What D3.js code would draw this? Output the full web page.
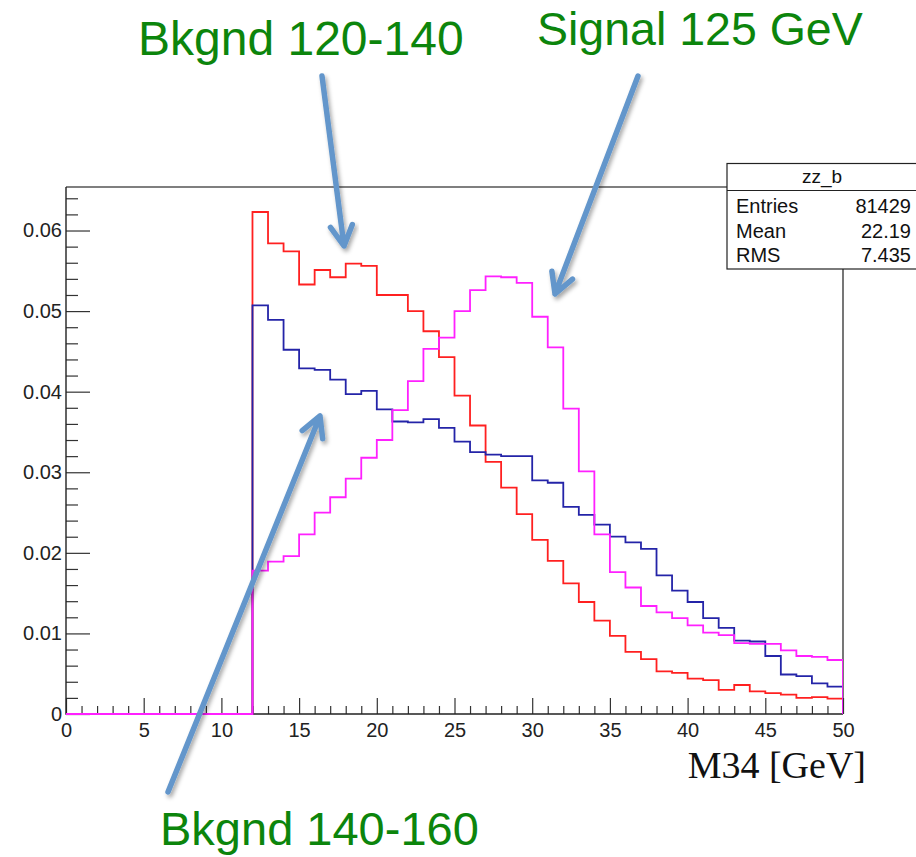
<!DOCTYPE html>
<html><head><meta charset="utf-8">
<script src="https://cdn.jsdelivr.net/npm/d3@7"></script>
<style>body{margin:0;background:#fff}svg{display:block}</style>
</head><body>
<svg id="c" width="916" height="857"></svg>
<script>
// ---- data ----
const binLowEdges = [0,1,2,3,4,5,6,7,8,9,10,11,12,13,14,15,16,17,18,19,20,21,22,23,24,25,26,27,28,29,30,31,32,33,34,35,36,37,38,39,40,41,42,43,44,45,46,47,48,49];
const bkgnd120_140 = [0,0,0,0,0,0,0,0,0,0,0,0,
  0.0623,0.0584,0.0574,0.0533,0.0551,0.0542,0.0559,0.0556,0.0520,0.0520,
  0.0500,0.0475,0.0443,0.0395,0.0358,0.0313,0.0281,0.0248,0.0216,0.0190,
  0.0162,0.0139,0.0116,0.0097,0.0077,0.0068,0.0053,0.0051,0.0044,0.0042,
  0.0030,0.0036,0.0028,0.0026,0.0024,0.0020,0.0021,0.0019];
const bkgnd140_160 = [0,0,0,0,0,0,0,0,0,0,0,0,
  0.0507,0.0489,0.0452,0.0429,0.0427,0.0415,0.0397,0.0401,0.0378,0.0363,
  0.0362,0.0366,0.0355,0.0338,0.0325,0.0322,0.0320,0.0320,0.0290,0.0287,
  0.0257,0.0247,0.0235,0.0220,0.0213,0.0205,0.0172,0.0153,0.0139,0.0119,
  0.0107,0.0091,0.0090,0.0072,0.0049,0.0047,0.0038,0.0034];
const signal125 = [0,0,0,0,0,0,0,0,0,0,0,0,
  0.0178,0.0189,0.0196,0.0223,0.0250,0.0269,0.0292,0.0318,0.0340,0.0377,
  0.0413,0.0453,0.0467,0.0500,0.0526,0.0543,0.0542,0.0535,0.0493,0.0455,
  0.0379,0.0301,0.0223,0.0176,0.0157,0.0134,0.0126,0.0119,0.0110,0.0101,
  0.0098,0.0088,0.0087,0.0087,0.0079,0.0072,0.0071,0.0067];
const xMajorTicks = [0,5,10,15,20,25,30,35,40,45,50];
const xMinorTicks = [1,2,3,4,6,7,8,9,11,12,13,14,16,17,18,19,21,22,23,24,26,27,28,29,31,32,33,34,36,37,38,39,41,42,43,44,46,47,48,49];
const yMajorTicks = [0,0.01,0.02,0.03,0.04,0.05,0.06];
const yMinorTicks = [0.002,0.004,0.006,0.008,0.012,0.014,0.016,0.018,0.022,0.024,0.026,0.028,0.032,0.034,0.036,0.038,0.042,0.044,0.046,0.048,0.052,0.054,0.056,0.058,0.062,0.064];
const xDomain = [0,50];
const yDomain = [0,0.0654];
const xTitle = "M34 [GeV]";
const statsTitle = "zz_b";
const statsLabels = ["Entries","Mean","RMS"];
const statsValues = ["81429","22.19","7.435"];
const annoLabels = ["Bkgnd 120-140","Signal 125 GeV","Bkgnd 140-160"];

// ---- drawing ----
const svg = d3.select("#c");
const L=66,R=843,T=187,B=714;
const x = d3.scaleLinear().domain(xDomain).range([L,R]);
const y = d3.scaleLinear().domain(yDomain).range([B,T]);
const sans = "'Liberation Sans', Arial, Helvetica, sans-serif";

svg.append("rect").attr("width",916).attr("height",857).attr("fill","#fff");

const defs = svg.append("defs");
defs.append("clipPath").attr("id","clip").append("rect")
  .attr("x",L).attr("y",T-1).attr("width",R-L).attr("height",B-T+2);
const f = defs.append("filter").attr("id","shadow").attr("x","-20%").attr("y","-20%").attr("width","140%").attr("height","140%");
f.append("feDropShadow").attr("dx",2).attr("dy",3).attr("stdDeviation",2).attr("flood-color","#000").attr("flood-opacity",0.35);

// frame (top/right)
svg.append("path").attr("d",`M${L},${T}H${R}V${B}`).attr("fill","none").attr("stroke","#555").attr("stroke-width",1.6);

// axes
function styleAxis(g){
  g.select(".domain").remove();
  g.selectAll("line").attr("stroke","#333").attr("stroke-width",1.2);
  g.selectAll("text").attr("font-family",sans).attr("font-size",20).attr("fill","#222");
}
svg.append("g").attr("transform",`translate(0,${B})`)
  .call(d3.axisBottom(x).tickValues(xMajorTicks).tickSize(-16).tickPadding(9).tickFormat(d3.format("d")))
  .call(styleAxis);
svg.append("g").attr("transform",`translate(0,${B})`)
  .call(d3.axisBottom(x).tickValues(xMinorTicks).tickSize(-8).tickFormat(""))
  .call(styleAxis);
svg.append("g").attr("transform",`translate(${L},0)`)
  .call(d3.axisLeft(y).tickValues(yMajorTicks).tickSize(-24).tickPadding(4).tickFormat(d=>d===0?"0":d3.format(".2f")(d)))
  .call(styleAxis);
svg.append("g").attr("transform",`translate(${L},0)`)
  .call(d3.axisLeft(y).tickValues(yMinorTicks).tickSize(-12).tickFormat(""))
  .call(styleAxis);
svg.append("path").attr("d",`M${L},${T}V${B}H${R}`).attr("fill","none").attr("stroke","#222").attr("stroke-width",1.4);

// histograms (drawn over the axis lines)
const line = d3.line().x(d=>x(d[0])).y(d=>y(d[1])).curve(d3.curveStepAfter);
function histPts(vals){
  const p = binLowEdges.map((b,i)=>[b, vals[i]]);
  p.push([xDomain[1], vals[vals.length-1]]);
  p.push([xDomain[1], 0]);
  return p;
}
const hg = svg.append("g").attr("clip-path","url(#clip)");
[[bkgnd120_140,"#ff2020"],[bkgnd140_160,"#2424a8"],[signal125,"#ff20ff"]].forEach(([v,c])=>{
  hg.append("path").attr("d",line(histPts(v))).attr("fill","none").attr("stroke",c).attr("stroke-width",1.8);
});

// axis title
svg.append("text").attr("x",866).attr("y",778).attr("text-anchor","end")
  .attr("font-family","'Liberation Serif','Times New Roman',serif").attr("font-size",38).attr("fill","#111").text(xTitle);

// stats box
const sb = svg.append("g");
sb.append("rect").attr("x",727).attr("y",163.5).attr("width",200).attr("height",105.5).attr("fill","#fff").attr("stroke","#222").attr("stroke-width",1.2);
sb.append("line").attr("x1",727).attr("x2",916).attr("y1",190.5).attr("y2",190.5).attr("stroke","#222").attr("stroke-width",1.2);
sb.append("text").attr("x",822).attr("y",183).attr("text-anchor","middle").attr("font-family",sans).attr("font-size",19).attr("fill","#111").text(statsTitle);
const rowY = [213,237.5,262];
statsLabels.forEach((lab,i)=>{
  sb.append("text").attr("x",736).attr("y",rowY[i]).attr("font-family",sans).attr("font-size",20).attr("fill","#111").text(lab);
  sb.append("text").attr("x",911).attr("y",rowY[i]).attr("text-anchor","end").attr("font-family",sans).attr("font-size",20).attr("fill","#111").text(statsValues[i]);
});

// annotation arrows
const arrowColor = "#6396cb";
function arrow(x0,y0,x1,y1){
  const g = svg.append("g").attr("filter","url(#shadow)");
  const ang = Math.atan2(y0-y1,x0-x1);
  const a = 0.5, len = 23;
  const p1 = [x1+len*Math.cos(ang+a), y1+len*Math.sin(ang+a)];
  const p2 = [x1+len*Math.cos(ang-a), y1+len*Math.sin(ang-a)];
  g.append("path").attr("d",`M${x0},${y0}L${x1},${y1}M${p1[0]},${p1[1]}L${x1},${y1}L${p2[0]},${p2[1]}`)
    .attr("fill","none").attr("stroke",arrowColor).attr("stroke-width",5.5)
    .attr("stroke-linecap","round").attr("stroke-linejoin","round");
}
arrow(322,76,344,246);
arrow(638,76,555,294);
arrow(168,792,320,416);

// annotation labels
const green = "#0c850c";
svg.append("text").attr("x",138).attr("y",55).attr("font-family",sans).attr("font-size",48).attr("fill",green).text(annoLabels[0]);
svg.append("text").attr("x",537).attr("y",45).attr("font-family",sans).attr("font-size",46.5).attr("fill",green).text(annoLabels[1]);
svg.append("text").attr("x",160).attr("y",845).attr("font-family",sans).attr("font-size",47).attr("fill",green).text(annoLabels[2]);
</script>
</body></html>
